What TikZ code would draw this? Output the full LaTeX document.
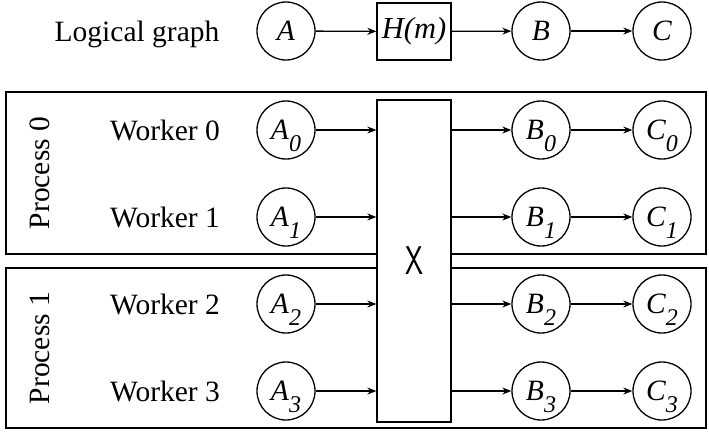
\documentclass[tikz,border=0pt]{standalone}
\usepackage{fontspec}
\setmainfont{Liberation Serif}
\usetikzlibrary{arrows.meta,calc}
\newcommand\lbl[2]{\textit{#1}\raisebox{-12pt}[0pt][0pt]{\fontsize{24}{24}\selectfont\textit{#2}}}
\tikzset{
  every node/.style={font=\fontsize{29.5}{31}\selectfont, inner sep=0pt},
  opnode/.style={circle, draw, line width=1.3pt, minimum size=58pt},
  opbox/.style={rectangle, draw, fill=white, line width=1.3pt},
  procbox/.style={rectangle, draw, line width=1.4pt},
  conn/.style={line width=1.3pt, -{Stealth[length=9pt,width=7pt]}},
}
\begin{document}
\begin{tikzpicture}[x=1pt,y=-1pt]
\useasboundingbox (0,0) rectangle (709,432);
% logical graph
\node[anchor=base] (lg) at (137,41) {Logical graph};
\node[opnode] (A) at (286,31) {\textit{A}};
\node[opbox, minimum width=74pt, minimum height=57pt, font=\fontsize{30.5}{32}\selectfont] (H) at (414,31.5) {\textit{H(m)}};
\node[opnode] (B) at (541,31) {\textit{B}};
\node[opnode] (C) at (662,31) {\textit{C}};
\draw[conn] (A) -- (H);
\draw[conn] (H) -- (B);
\draw[conn] (B) -- (C);
% processes
\node[procbox, minimum width=700pt, minimum height=162pt] (p0) at (356,173) {};
\node[procbox, minimum width=700pt, minimum height=160pt] (p1) at (356,348) {};
\node[rotate=90] (p0l) at (40,173) {Process 0};
\node[rotate=90] (p1l) at (40,348) {Process 1};
% exchange box
\node[opbox, minimum width=74pt, minimum height=322pt] (X) at (414,261) {};
\node[font=\sffamily\fontsize{40}{40}\selectfont, xscale=0.72] (xl) at (X.center) {X};
% workers
\foreach \i/\y in {0/130,1/217,2/304,3/391}{
  \node (w\i) at (165,\y) {Worker \i};
  \node[opnode] (A\i) at (286,\y) {\lbl{A}{\i}};
  \node[opnode] (B\i) at (541,\y) {\lbl{B}{\i}};
  \node[opnode] (C\i) at (662,\y) {\lbl{C}{\i}};
  \draw[conn] (A\i) -- (A\i -| X.west);
  \draw[conn] (X.east |- B\i) -- (B\i);
  \draw[conn] (B\i) -- (C\i);
}
\end{tikzpicture}
\end{document}
